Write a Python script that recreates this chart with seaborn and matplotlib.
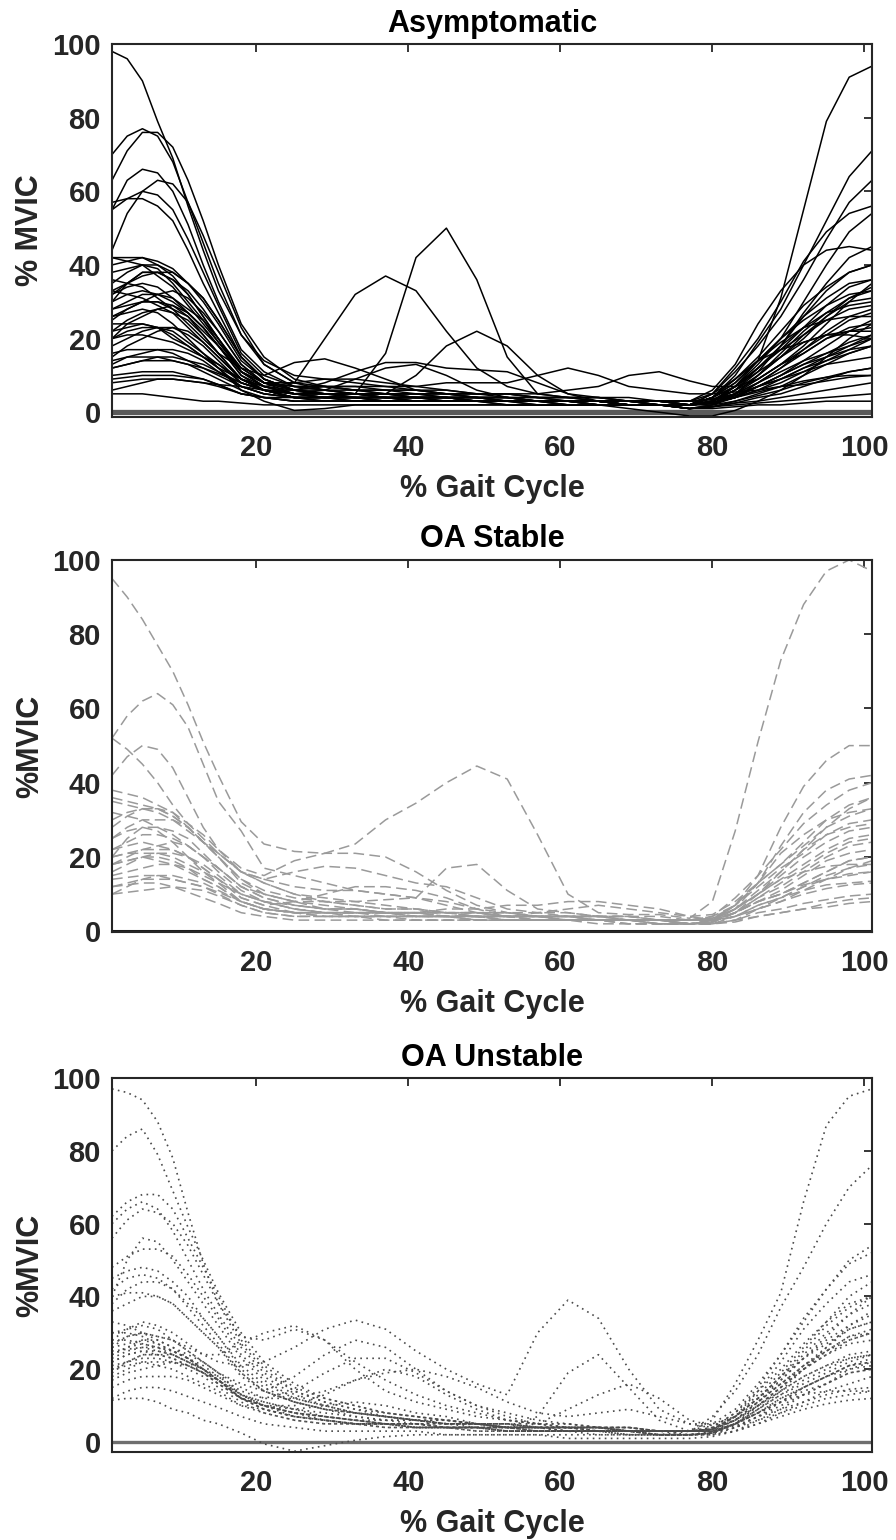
import numpy as np
import pandas as pd
import matplotlib
matplotlib.use("Agg")
import matplotlib.pyplot as plt
import seaborn as sns

# ---------------- data ----------------
# sample positions (% gait cycle): early | mid | late segments
gait_early = [1, 3, 5, 7, 9, 11, 13, 15, 18, 21]
gait_mid = [25, 29, 33, 37, 41, 45, 49, 53, 57, 61, 65, 69, 73, 77]
gait_late = [80, 83, 86, 89, 92, 95, 98, 101]
gait_pct = gait_early + gait_mid + gait_late

x_ticks = [20, 40, 60, 80, 100]
y_ticks = [0, 20, 40, 60, 80, 100]
panel_titles = ["Asymptomatic", "OA Stable", "OA Unstable"]
y_labels = ["% MVIC", "%MVIC", "%MVIC"]
x_label = "% Gait Cycle"
baseline = 0

asym_curves = [
    [98, 96, 90, 79, 69, 56, 44, 33, 21, 14] + [10, 9, 8, 7, 6, 5, 5, 4, 4, 3, 3, 3, 3, 3] + [3.5, 6, 11, 18, 26, 33, 38, 40],
    [70, 75, 77, 75, 68, 57, 46, 35, 21, 13] + [8, 7, 6, 6, 5, 5, 4, 4, 3, 3, 3, 2, 2, 2] + [3, 7, 14, 31, 55, 79, 91, 94],
    [63, 71, 76, 76, 72, 63, 52, 40, 24, 15] + [9, 7, 6, 5, 5, 4, 4, 3, 3, 3, 2, 2, 2, 2] + [3, 7, 13, 20, 30, 40, 49, 54],
    [55, 63, 66, 65, 60, 51, 40, 30, 17, 11] + [7, 6, 5, 5, 4, 4, 4, 3, 3, 3, 3, 2, 2, 2] + [4, 10, 19, 28, 40, 52, 64, 71],
    [44, 54, 60, 63, 62, 57, 48, 38, 23, 13] + [8, 6, 5, 5, 4, 4, 3, 3, 3, 2, 2, 2, 2, 2] + [3, 6, 12, 18, 27, 35, 42, 45],
    [55, 58, 60, 59, 55, 47, 38, 29, 16, 10] + [7, 6, 6, 5, 5, 4, 4, 4, 3, 3, 3, 2, 2, 2] + [5, 11, 18, 26, 36, 47, 57, 63],
    [57, 58, 58, 56, 52, 44, 35, 27, 15, 9] + [6, 5, 5, 4, 4, 4, 3, 3, 3, 3, 2, 2, 2, 2] + [5, 12, 20, 30, 41, 49, 54, 56],
    [42, 42, 42, 40, 37, 32, 26, 20, 11, 7] + [5, 5, 4, 4, 4, 4, 3, 3, 3, 3, 3, 2, 2, 2] + [3, 6, 10, 15, 20, 26, 31, 33],
    [40, 41, 42, 41, 39, 35, 30, 24, 14, 9] + [6, 5, 5, 4, 4, 4, 4, 3, 3, 3, 3, 3, 2, 2] + [4, 9, 15, 22, 29, 34, 38, 40],
    [35, 38, 40, 40, 38, 35, 31, 25, 15, 9] + [6, 5, 5, 4, 4, 4, 3, 3, 3, 3, 3, 2, 2, 2] + [3, 5, 10, 15, 21, 26, 30, 31],
    [33, 35, 37, 38, 38, 35, 31, 25, 15, 9] + [6, 5, 4, 4, 4, 4, 3, 3, 3, 3, 2, 2, 2, 2] + [2.5, 4, 8, 12, 17, 22, 26, 28],
    [32, 34, 35, 34, 31, 27, 23, 18, 10, 7] + [5, 5, 5, 4, 4, 4, 4, 3, 3, 3, 3, 3, 3, 3] + [6, 13, 24, 33, 40, 44, 45, 44],
    [30, 32, 33, 32, 30, 27, 23, 18, 11, 7] + [5, 4, 4, 4, 3, 3, 3, 3, 3, 3, 3, 2, 2, 2] + [4, 8, 14, 19, 23, 25, 26, 26],
    [28, 30, 32, 32, 31, 28, 25, 20, 12, 8] + [5, 4, 4, 4, 4, 3, 3, 3, 3, 3, 3, 2, 2, 1] + [2, 4, 7, 10, 14, 18, 22, 25],
    [25, 28, 30, 30, 29, 26, 21, 16, 9, 6] + [4, 4, 4, 4, 3, 3, 3, 3, 3, 3, 3, 2, 2, 2] + [3, 7, 11, 15, 19, 21, 22, 22],
    [33, 32, 31, 29, 27, 23, 19, 15, 9, 6] + [5, 4, 4, 4, 4, 3, 3, 3, 3, 3, 2, 2, 2, 2] + [2.5, 4, 6, 9, 12, 15, 18, 21],
    [22, 25, 27, 28, 27, 25, 21, 16, 9, 6] + [4, 4, 4, 3, 3, 3, 3, 3, 3, 3, 3, 2, 2, 2] + [4, 9, 14, 17, 19, 21, 21, 20],
    [20, 24, 26, 28, 29, 27, 23, 18, 10, 6] + [4, 4, 4, 3, 3, 3, 3, 3, 2, 2, 2, 2, 2, 1] + [1.5, 3, 5, 7, 10, 13, 16, 18],
    [24, 24, 24, 23, 21, 18, 15, 12, 7, 5] + [4, 4, 4, 3, 3, 3, 3, 3, 3, 3, 3, 2, 2, 2] + [2.5, 4, 7, 9, 11, 13, 14, 15],
    [18, 20, 22, 23, 23, 21, 18, 14, 8, 6] + [4, 4, 4, 4, 3, 3, 3, 3, 3, 2, 2, 2, 2, 1] + [1.5, 2.5, 4, 5, 7, 9, 11, 12],
    [15, 18, 20, 22, 23, 22, 19, 15, 9, 6] + [4, 4, 3, 3, 3, 3, 3, 3, 3, 3, 3, 3, 3, 2] + [2.5, 4, 5.5, 7, 8.5, 9.5, 10, 10],
    [16, 17, 17, 17, 16, 14, 12, 10, 7, 5] + [4, 4, 3, 3, 3, 3, 3, 3, 3, 2, 2, 2, 2, 1] + [1.5, 2.5, 3, 4, 5, 6, 7, 8],
    [13, 15, 16, 17, 17, 16, 14, 11, 7, 5] + [4, 3, 3, 3, 3, 3, 3, 3, 2, 2, 2, 2, 2, 1] + [1.5, 2, 2.5, 3, 3.5, 4, 4.5, 5],
    [14, 15, 15, 15, 14, 13, 11, 9, 6, 4] + [3, 3, 3, 3, 3, 3, 3, 2, 2, 2, 2, 2, 2, 1] + [1, 1.5, 2, 2, 2.5, 3, 3, 3],
    [10, 10.5, 11, 11, 11, 10, 9, 7.5, 5, 4] + [3, 3, 3, 3, 3, 3, 3, 2, 2, 2, 2, 2, 2, 2] + [3, 6, 9, 13, 16, 20, 23, 24],
    [9, 9.5, 10, 10, 10, 9.5, 9, 7.5, 5, 4] + [3, 3, 3, 3, 3, 3, 3, 3, 3, 3, 2, 2, 2, 2] + [2.5, 5, 8, 12, 16, 20, 22, 23],
    [6, 7, 8, 9, 9, 8.5, 8, 7, 5, 4] + [4, 3, 3, 3, 3, 3, 3, 3, 3, 3, 3, 3, 2, 2] + [4, 8, 14, 20, 25, 29, 32, 33],
    [5, 5, 5, 4.5, 4, 3.5, 3, 3, 2.5, 2] + [2, 2, 2, 2, 2, 2, 2, 2, 2, 2, 2, 2, 2, 1] + [2, 5, 10, 16, 22, 27, 31, 34],
    [30, 35, 38, 38, 36, 32, 26, 20, 11, 7] + [5, 4, 5, 16, 42, 50, 36, 15, 5, 4, 3, 3, 3, 2] + [4, 7, 12, 18, 23, 27, 29, 30],
    [26, 28, 30, 32, 33, 31, 27, 22, 13, 8] + [8, 20, 32, 37, 33, 22, 12, 7, 5, 4, 3, 3, 2, 2] + [3, 7, 12, 17, 21, 25, 28, 29],
    [20, 22, 23, 23, 22, 19, 16, 13, 8, 6] + [5, 5, 5, 5, 10, 18, 22, 18, 10, 5, 3, 3, 2, 2] + [2.5, 5, 9, 13, 17, 21, 25, 27],
    [36, 35, 34, 31, 28, 24, 20, 16, 12, 10] + [13.5, 14.5, 12, 9, 6, 5, 4, 4, 3, 3, 3, 3, 3, 2] + [2.5, 4.5, 7, 10, 13, 15, 17, 18],
    [22, 23, 24, 23, 20, 18, 15, 12, 9, 7] + [6, 8, 11, 13.5, 13.5, 12, 11.5, 11, 8, 5, 4, 3, 3, 2] + [2.5, 4.5, 7, 9, 12, 14, 16, 18],
    [12, 13, 14, 15, 15, 14, 13, 11, 8, 6] + [5, 6, 9, 12, 13, 10, 6, 4, 3, 3, 3, 3, 2, 2] + [2, 3, 4.5, 6, 8, 9.5, 11, 12],
    [8, 8.5, 9, 9, 9, 8.5, 8, 7.5, 7, 6] + [6, 7, 7, 7, 7, 8, 8, 8, 10, 12, 10, 7, 6, 5] + [5, 5.5, 6, 7, 7.5, 8.5, 9.5, 10],
    [12, 13, 14, 14, 14, 13, 12, 10.5, 8, 6] + [5, 5, 5, 5, 5, 5, 5, 5, 5, 6, 7, 10, 11, 8.5] + [7, 7, 9, 13, 18, 24, 30, 35],
    [26, 27, 28, 27, 24, 20, 16, 12, 6, 3] + [0.5, 1, 2, 2, 2, 2, 2, 2, 2, 2, 2, 1, 0, -1] + [-1, 0.5, 3, 6, 10, 15, 20, 24],
    [32, 35, 38, 38, 36, 33, 28, 22, 13, 8] + [6, 6, 5, 5, 5, 5, 4, 4, 4, 3, 3, 3, 3, 2] + [4, 7, 12, 17, 23, 29, 34, 36],
    [28, 29, 30, 30, 28, 26, 22, 18, 11, 8] + [7, 7, 7, 6, 6, 6, 5, 5, 4, 4, 4, 3, 3, 3] + [3.5, 5, 8, 11, 14, 16, 18, 20],
    [20, 21, 21, 20, 19, 17, 15, 13, 9, 7] + [8, 9, 9, 8, 7, 6, 5, 5, 4, 4, 4, 3, 3, 3] + [3.5, 5, 7, 10, 13, 16, 19, 21],
    [42, 41, 40, 37, 34, 29, 24, 19, 12, 8] + [7, 7, 6, 6, 6, 5, 5, 5, 4, 4, 4, 4, 3, 3] + [5, 9, 14, 20, 26, 31, 35, 36],
    [38, 39, 40, 39, 35, 30, 25, 19, 11, 8] + [6, 5, 5, 5, 4, 4, 4, 4, 3, 3, 3, 3, 3, 2] + [2.5, 4, 6, 8, 11, 14, 17, 20],
]

oa_stable_curves = [
    [95, 90, 84, 77, 70, 61, 51, 42, 29.5, 23.5] + [21.5, 21, 23.5, 30, 34.5, 40, 44.5, 41, 26, 10, 5, 4.5, 4.5, 3.5] + [8, 27, 51, 73, 88, 97, 100, 97],
    [52, 58, 62, 64, 61, 55, 45, 35, 27, 17] + [15, 13, 11, 10, 9, 7, 5, 4, 4, 3, 3, 3, 3, 3] + [3, 7, 15, 28, 39, 46, 50, 50],
    [42, 47, 50, 49, 44, 36, 28, 22, 16, 13] + [10, 9, 8, 7, 6, 5, 5, 4, 4, 4, 3, 3, 3, 2] + [3, 6, 13, 23, 32, 38, 41, 42],
    [52, 49, 45, 40, 34, 29, 25, 21, 16, 13] + [10, 8, 7, 6, 6, 5, 5, 4, 4, 4, 3, 3, 3, 3] + [4, 9, 15, 22, 29, 34, 38, 40],
    [35, 34, 33, 32, 30, 27, 24, 21, 16, 14] + [16, 17.5, 17, 15, 13, 12, 9, 6, 5, 4, 4, 4, 3, 3] + [3, 5, 10, 16, 22, 28, 33, 36],
    [28, 31, 33, 33, 32, 29, 26, 22, 17, 15] + [19, 21, 21, 20, 16, 11, 7, 5, 4, 4, 4, 3, 3, 3] + [4, 7, 13, 21, 26, 30, 32, 33],
    [30, 32, 33, 33, 31, 28, 24, 21, 16, 14] + [12, 11, 11, 10, 9, 8, 6, 5, 4, 4, 4, 4, 3, 3] + [3.5, 6, 10, 15, 20, 24, 27, 28],
    [36, 35, 34, 33, 31, 28, 24, 20, 13, 10] + [8, 7, 6, 5, 5, 5, 4, 4, 4, 3, 3, 3, 3, 3] + [3, 5, 9, 13, 17, 21, 24, 25],
    [25, 28, 30, 30, 30, 28, 24, 20, 14, 10] + [8, 8, 8, 8.5, 9, 17, 18, 11, 6, 5, 4, 4, 4, 3] + [3, 5, 8, 10, 13, 16, 19, 20],
    [20, 25, 28, 28, 27, 25, 21, 17, 12, 9] + [7, 6, 6, 5, 5, 5, 5, 4, 4, 4, 4, 3, 3, 2] + [3, 6, 10, 14, 16, 17.5, 18, 18],
    [22, 24, 26, 26, 25, 23, 20, 16, 11, 8] + [6, 5, 5, 5, 5, 4, 4, 4, 3, 3, 3, 3, 3, 2] + [2.5, 5, 8, 10, 12.5, 14, 15, 16],
    [18, 20, 22, 23, 24, 23, 20, 17, 12, 9] + [7, 6, 6, 5, 5, 5, 4, 4, 4, 4, 3, 3, 3, 2] + [2, 4, 7, 9, 11, 12.5, 13, 13.5],
    [20, 21, 21, 21, 20, 18, 16, 14, 10, 8] + [7, 6, 6, 5, 5, 4, 4, 4, 4, 3, 3, 3, 3, 2] + [2, 3, 5, 6, 7.5, 8.5, 9.5, 10],
    [16, 18, 20, 21, 21, 20, 17, 14, 9, 7] + [5, 5, 4, 4, 4, 4, 3, 3, 3, 3, 3, 2, 2, 2] + [2, 3, 4, 5, 6, 6.5, 7.5, 8],
    [15, 16, 17, 18, 18, 17, 15, 13, 10, 8] + [6, 5, 5, 5, 4, 4, 4, 4, 3, 3, 3, 3, 2, 2] + [2.5, 6, 11, 16, 22, 26, 28, 29],
    [14, 14.5, 15, 15, 14, 13, 12, 10.5, 8, 6] + [5, 5, 5, 5, 4, 4, 4, 3, 3, 3, 3, 3, 2, 2] + [3, 7, 13, 18, 23, 28, 31, 33],
    [10, 12, 14, 15, 15, 14, 13, 11, 8, 6] + [5, 5, 5, 4, 4, 4, 4, 3, 3, 3, 3, 3, 3, 2] + [2.5, 5, 8, 10, 13, 16, 19, 20],
    [12, 12.5, 13, 13, 12, 10.5, 9, 7.5, 5, 4] + [3, 3, 3, 3, 3, 3, 3, 3, 3, 3, 2, 2, 2, 2] + [2, 3, 6, 8, 11, 14, 17, 19],
    [18, 19, 20, 20, 19, 17, 14, 12, 8, 6] + [5, 4, 4, 4, 4, 4, 3, 3, 3, 3, 3, 3, 2, 2] + [2.5, 4, 7, 9, 12, 14, 15.5, 16],
    [22, 23, 24, 23, 22, 20, 17, 14, 9, 7] + [8, 10, 12, 12, 11, 9, 6, 4, 3, 3, 3, 3, 3, 2] + [2.5, 5, 9, 12, 16, 20, 23, 24],
    [25, 27, 28, 27, 24, 20, 16, 13, 8, 6] + [5, 4, 4, 4, 4, 4, 4, 4, 5, 6, 7, 6, 5, 4] + [4.5, 8, 13, 18, 24, 30, 34, 36],
    [12, 13, 14, 14, 14, 13, 12, 10, 7, 5] + [4, 4, 4, 3, 3, 3, 3, 3, 3, 3, 3, 3, 3, 3] + [3, 4, 6, 8, 10, 11.5, 12.5, 13],
    [32, 31, 30, 28, 26, 23, 20, 17, 12, 10] + [8, 6, 5, 5, 4, 4, 4, 3, 3, 3, 3, 3, 2, 2] + [2.5, 5, 8, 11, 15, 19, 21, 22],
    [10, 10.5, 11, 11.5, 12, 11.5, 11, 9.5, 7, 5] + [4, 4, 4, 4, 3, 3, 3, 3, 3, 3, 3, 2, 2, 2] + [2, 2.5, 4, 5, 6, 7.5, 8.5, 9],
    [38, 37, 36, 34, 32, 28, 24, 20, 14, 11] + [9, 8, 7, 6, 6, 5, 5, 5, 4, 4, 4, 3, 3, 3] + [3.5, 7, 12, 17, 21, 26, 29, 30],
    [20, 21, 22, 22, 22, 20, 18, 15, 10, 8] + [6, 5, 5, 5, 5, 5, 5, 5, 5, 5, 4, 4, 3, 3] + [3.5, 6, 10, 14, 18, 22, 25, 26],
    [18, 19, 20, 19, 18, 16, 14, 12, 8, 6] + [5, 5, 5, 5, 5, 6, 6, 7, 7, 8, 8, 7, 6, 4] + [3, 4, 6, 9, 12, 15, 17, 18],
]

oa_unstable_curves = [
    [97, 96, 94, 88, 78, 63, 49, 38, 29, 28] + [31, 28, 22, 17, 13, 10, 8, 6, 5, 4, 4, 3, 3, 3] + [6, 16, 28, 41, 66, 87, 95, 97],
    [80, 84, 86, 79, 69, 59, 50, 41, 30, 22] + [16, 12, 10, 8, 7, 6, 5, 4, 4, 3, 3, 3, 2, 3] + [7, 14, 24, 37, 48, 60, 70, 76],
    [62, 66, 68, 68, 64, 56, 48, 40, 28, 21] + [15, 12, 10, 8, 7, 6, 5, 4, 4, 3, 3, 3, 3, 3] + [5, 9, 16, 24, 33, 42, 50, 54],
    [60, 64, 66, 64, 58, 50, 42, 35, 26, 19] + [14, 11, 9, 8, 7, 6, 5, 4, 4, 4, 3, 3, 3, 3] + [4, 8, 15, 24, 34, 42, 49, 52],
    [56, 61, 64, 63, 60, 54, 46, 38, 27, 20] + [14, 11, 9, 7, 6, 5, 5, 4, 4, 3, 3, 3, 3, 3] + [4, 8, 14, 20, 27, 33, 38, 40],
    [40, 50, 56, 55, 50, 44, 38, 32, 23, 17] + [12, 10, 8, 7, 6, 5, 5, 4, 4, 4, 3, 3, 3, 3] + [3.5, 7, 12, 17, 23, 29, 35, 40],
    [48, 51, 53, 53, 51, 46, 40, 34, 24, 18] + [13, 10, 8, 7, 6, 5, 5, 4, 4, 4, 3, 3, 3, 3] + [3.5, 7, 13, 19, 26, 33, 40, 44],
    [42, 45, 46, 45, 42, 37, 32, 27, 19, 14] + [11, 9, 8, 7, 6, 5, 5, 4, 4, 4, 4, 3, 3, 3] + [3.5, 6, 11, 16, 21, 25, 29, 31],
    [38, 42, 44, 44, 42, 38, 34, 29, 21, 16] + [12, 10, 8, 7, 6, 5, 5, 5, 4, 4, 4, 3, 3, 3] + [3.5, 6, 10, 15, 20, 24, 28, 30],
    [40, 41, 41, 40, 38, 34, 30, 26, 19, 14] + [11, 9, 8, 7, 6, 6, 5, 5, 4, 4, 4, 3, 3, 3] + [3, 5, 9, 13, 16, 19, 22, 24],
    [28, 31, 33, 32, 30, 27, 24, 22, 21, 22] + [26, 31, 33.5, 31, 25, 20, 16, 13, 30, 39, 34, 20, 9, 5] + [4, 6, 11, 17, 23, 28, 32, 35],
    [26, 29, 30, 29, 28, 26, 24, 24, 27, 30] + [32, 28, 20, 14, 11, 9, 7, 6, 5, 5, 4, 4, 3, 3] + [3.5, 7, 12, 18, 24, 30, 35, 38],
    [30, 31, 32, 31, 28, 25, 22, 19, 16, 14] + [18, 24, 28, 26, 20, 14, 10, 7, 5, 4, 4, 3, 3, 3] + [3.5, 7, 12, 18, 23, 27, 31, 33],
    [24, 26, 28, 28, 26, 24, 22, 19, 15, 12] + [14, 19, 23, 23, 19, 14, 10, 8, 6, 5, 4, 4, 3, 3] + [3.5, 6, 10, 14, 18, 21, 24, 25],
    [22, 24, 25, 25, 24, 22, 20, 17, 13, 10] + [10, 13, 17, 20, 18, 13, 9, 6, 5, 5, 4, 4, 3, 3] + [3, 5, 8, 11, 15, 18, 21, 22],
    [20, 22, 24, 24, 23, 21, 19, 16, 12, 9] + [7, 6, 5, 5, 5, 4, 4, 4, 7, 19, 24, 15, 6, 3] + [3, 6, 10, 14, 18, 21, 23, 24],
    [18, 20, 22, 22, 22, 20, 18, 15, 11, 8] + [6, 5, 5, 4, 4, 4, 4, 4, 5, 9, 13, 16, 12, 6] + [4.5, 7, 12, 18, 25, 32, 37, 40],
    [11.5, 12, 12, 11, 9, 8, 6, 5, 2.5, -0.5] + [-2.5, -1, 0.5, 1.5, 2, 2, 2, 2, 2, 1, 1, 1, 1, 1] + [1.5, 3, 5, 8, 11, 14, 16, 18],
    [12, 14, 15, 15, 14, 12.5, 11, 9.5, 7, 5] + [4, 3, 3, 3, 3, 2, 2, 2, 2, 2, 2, 2, 2, 2] + [2.5, 4, 6, 8, 10, 12, 13, 14],
    [26, 27, 28, 27, 25, 23, 20, 17, 12, 10] + [8, 7, 6, 5, 5, 4, 4, 3, 3, 3, 3, 3, 2, 2] + [2.5, 5, 9, 13, 17, 20, 23, 24],
    [24, 26, 27, 26, 25, 23, 20, 17, 13, 11] + [9, 7, 6, 5, 5, 4, 4, 3, 3, 3, 3, 2, 2, 2] + [3, 5, 10, 15, 20, 25, 28, 30],
    [22, 24, 25, 24, 23, 21, 19, 16, 12, 10] + [8, 7, 6, 5, 4, 4, 4, 3, 3, 3, 3, 2, 2, 2] + [2.5, 5, 8, 12, 15, 18, 21, 22],
    [19, 22, 24, 24, 24, 22, 20, 17, 13, 10] + [8, 6, 5, 5, 4, 4, 3, 3, 3, 3, 3, 3, 2, 2] + [2, 4, 7, 11, 14, 16, 19, 20],
    [17, 19, 20, 21, 22, 21, 19, 17, 12, 10] + [7, 6, 5, 5, 4, 4, 4, 3, 3, 3, 2, 2, 2, 2] + [2, 3, 6, 9, 11, 13, 14.5, 15],
    [28, 28, 27, 26, 24, 22, 19, 16, 12, 9] + [7, 6, 5, 5, 4, 4, 4, 3, 3, 3, 3, 3, 2, 2] + [2.5, 5, 8, 12, 15, 18, 20, 21],
    [30, 30, 29, 27, 25, 23, 20, 17, 12, 10] + [8, 7, 6, 5, 5, 5, 4, 4, 3, 3, 3, 3, 2, 2] + [2.5, 5, 8, 11, 13, 14, 14, 14],
    [33, 32, 30, 28, 26, 23, 20, 17, 12, 9] + [7, 6, 5, 5, 4, 4, 4, 4, 3, 3, 3, 3, 3, 2] + [2.5, 4, 7, 10, 13, 16, 19, 20],
    [15, 17, 18, 18, 18, 17, 15, 13, 10, 8] + [6, 5, 5, 4, 4, 4, 3, 3, 3, 3, 3, 2, 2, 2] + [2, 3, 5, 7, 9, 10.5, 11.5, 12],
    [20, 21, 22, 21, 20, 18, 16, 14, 10, 9] + [7, 6, 5, 5, 5, 4, 4, 4, 3, 3, 3, 3, 2, 2] + [2.5, 5, 10, 15, 21, 26, 31, 33],
    [45, 47, 48, 47, 44, 40, 34, 29, 20, 15] + [11, 9, 8, 7, 6, 6, 5, 5, 5, 4, 4, 4, 3, 3] + [3.5, 7, 14, 22, 31, 38, 44, 46],
    [36, 38, 40, 40, 38, 34, 30, 26, 18, 14] + [11, 9, 7, 6, 6, 5, 5, 5, 4, 4, 4, 3, 3, 3] + [3.5, 6, 11, 16, 20, 24, 27, 28],
    [25, 25.5, 26, 25, 24, 22, 20, 18, 13, 11] + [9, 8, 7, 6, 6, 5, 5, 5, 4, 4, 4, 4, 3, 3] + [3, 4.5, 7, 9, 13, 16, 20, 22],
    [21, 22, 23, 23, 22, 21, 19, 17, 12, 10] + [8, 7, 6, 6, 5, 5, 5, 4, 4, 4, 4, 3, 3, 3] + [3, 5, 9, 14, 20, 26, 32, 36],
    [27, 29, 30, 29, 28, 25, 22, 19, 13, 10] + [9, 10, 11, 10, 8, 7, 5, 4, 4, 4, 3, 3, 3, 3] + [3, 5, 8, 11, 15, 18, 21, 23],
    [23, 25, 26, 26, 25, 23, 21, 18, 14, 12] + [12, 14, 17, 19, 20, 18, 15, 11, 8, 7, 8, 9, 7, 5] + [5, 7, 11, 16, 21, 25, 29, 30],
]

# ---------------- style ----------------
sns.set_style("white")
plt.rcParams["font.family"] = ["Liberation Sans", "DejaVu Sans"]
plt.rcParams["font.weight"] = "bold"
plt.rcParams["axes.labelweight"] = "bold"
plt.rcParams["axes.titleweight"] = "bold"

TXT = "#262626"

fig = plt.figure(figsize=(8.96, 15.4), dpi=100)
positions = [
    [0.125, 0.7292, 0.8482, 0.2422],
    [0.125, 0.3948, 0.8482, 0.2416],
    [0.125, 0.0571, 0.8482, 0.2429],
]
ylims = [(-1.3, 100), (-0.2, 100), (-2.75, 100)]
datasets = [asym_curves, oa_stable_curves, oa_unstable_curves]
line_kws = [
    dict(color="black", lw=1.1, linestyle="-"),
    dict(color="#9a9a9a", lw=1.1, linestyle=(0, (7, 3.5))),
    dict(color="#4a4a4a", lw=1.2, linestyle=(0, (1, 2.6))),
]
base_kws = [
    dict(color="#5a5a5a", lw=3.8),
    dict(color="#1a1a1a", lw=2.2),
    dict(color="#6e6e6e", lw=2.4),
]


def long_frame(curves):
    rows = []
    for sid, vals in enumerate(curves):
        for xv, yv in zip(gait_pct, vals):
            rows.append((sid, xv, yv))
    return pd.DataFrame(rows, columns=["subject", "gait", "mvic"])


for i in range(3):
    ax = fig.add_axes(positions[i])
    df = long_frame(datasets[i])
    ax.axhline(baseline, zorder=1, **base_kws[i])
    sns.lineplot(data=df, x="gait", y="mvic", units="subject", estimator=None,
                 ax=ax, legend=False, zorder=2, **line_kws[i])
    ax.set_xlim(1, 101)
    ax.set_ylim(*ylims[i])
    ax.set_xticks(x_ticks)
    ax.set_yticks(y_ticks)
    ax.tick_params(direction="in", top=True, right=True, length=6, width=1.3,
                   colors=TXT, labelsize=21, labelcolor=TXT)
    ax.tick_params(axis="x", pad=12)
    ax.tick_params(axis="y", pad=8)
    for lab in ax.get_xticklabels() + ax.get_yticklabels():
        lab.set_fontweight("bold")
    for sp in ax.spines.values():
        sp.set_linewidth(1.5)
        sp.set_color(TXT)
        sp.set_visible(True)
    ax.set_title(panel_titles[i], fontsize=22, fontweight="bold", color="black", pad=9)
    ax.set_xlabel(x_label, fontsize=22, fontweight="bold", color=TXT)
    ax.set_ylabel(y_labels[i], fontsize=22, fontweight="bold", color=TXT)
    ax.xaxis.set_label_coords(0.5, -0.152)
    ax.yaxis.set_label_coords(-0.088, 0.5)

fig.savefig("out.png", dpi=100)
